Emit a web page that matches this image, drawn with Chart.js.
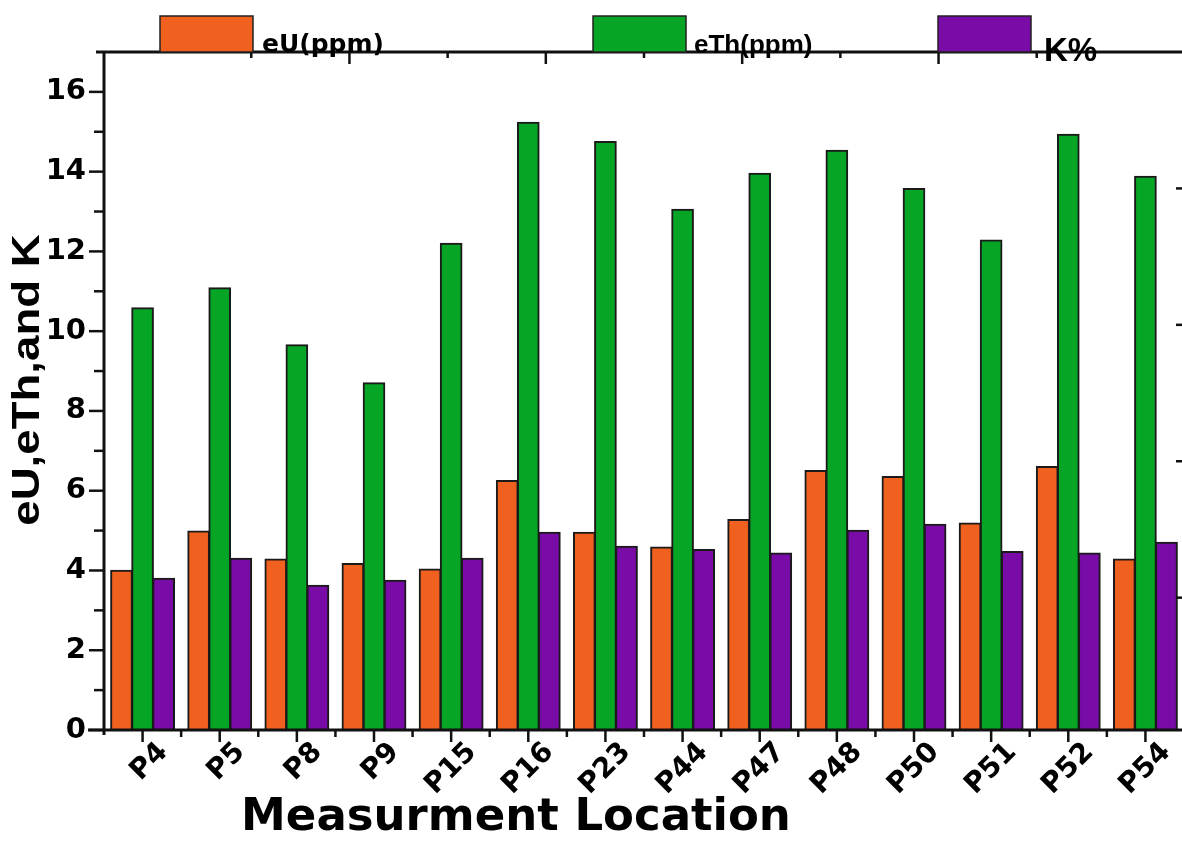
<!DOCTYPE html>
<html>
<head>
<meta charset="utf-8">
<script src="https://cdn.jsdelivr.net/npm/chart.js@4.4.0/dist/chart.umd.min.js"></script>
<style>
  html, body { margin: 0; padding: 0; background: #fff; overflow: hidden; }
  #wrap { width: 1182px; height: 852px; overflow: hidden; position: relative; }
  #chart { position: absolute; left: 0; top: 0; }
</style>
</head>
<body>
<div id="wrap"><canvas id="chart" width="1200" height="852"></canvas></div>
<script>
var locations = ['P4', 'P5', 'P8', 'P9', 'P15', 'P16', 'P23', 'P44', 'P47', 'P48', 'P50', 'P51', 'P52', 'P54'];
var eU  = [4.0, 4.98, 4.28, 4.17, 4.03, 6.25, 4.95, 4.58, 5.27, 6.5, 6.35, 5.18, 6.6, 4.28];
var eTh = [10.58, 11.08, 9.65, 8.7, 12.2, 15.23, 14.75, 13.05, 13.95, 14.53, 13.57, 12.28, 14.93, 13.88];
var K   = [3.8, 4.3, 3.62, 3.75, 4.3, 4.95, 4.6, 4.52, 4.43, 5.0, 5.15, 4.47, 4.43, 4.7];
var seriesNames = ['eU(ppm)', 'eTh(ppm)', 'K%'];
var seriesColors = ['#F0611F', '#06A525', '#790BA6'];

// axis ticks
var yMajor = [0, 2, 4, 6, 8, 10, 12, 14, 16];
var yMinor = [1, 3, 5, 7, 9, 11, 13, 15];
var topTicks = [1, 2, 3, 4, 5, 6, 7, 8, 9];      // odd = minor, even = major
var rightTicks = [1, 2, 3, 4];

var ink = '#111';

function seg(ctx, x1, y1, x2, y2) {
  ctx.beginPath(); ctx.moveTo(x1, y1); ctx.lineTo(x2, y2); ctx.stroke();
}

// frame, tick marks, legend and axis titles drawn by hand
var framePlugin = {
  id: 'frame',
  afterDatasetsDraw: function (chart) {
    var ctx = chart.ctx, a = chart.chartArea;
    var x = chart.scales.x, y = chart.scales.y, x2 = chart.scales.x2, y2 = chart.scales.y2;
    ctx.save();
    ctx.strokeStyle = ink;
    ctx.lineWidth = 3;
    seg(ctx, a.left - 16, a.bottom, a.right, a.bottom);
    seg(ctx, a.left - 8, a.top, a.right, a.top);
    seg(ctx, a.left, a.top, a.left, a.bottom + 5);
    seg(ctx, a.right, a.top, a.right, a.bottom);

    ctx.lineWidth = 2.5;
    yMajor.forEach(function (v) { var p = y.getPixelForValue(v); seg(ctx, a.left - 15, p, a.left, p); });
    yMinor.forEach(function (v) { var p = y.getPixelForValue(v); seg(ctx, a.left - 10, p, a.left, p); });
    var half = (x.getPixelForValue(1) - x.getPixelForValue(0)) / 2;
    locations.forEach(function (l, i) {
      var p = x.getPixelForValue(i);
      seg(ctx, p, a.bottom, p, a.bottom + 12);
      if (i < locations.length - 1) seg(ctx, p + half, a.bottom, p + half, a.bottom + 7);
    });
    topTicks.forEach(function (v) {
      var p = x2.getPixelForValue(v);
      seg(ctx, p, a.top, p, a.top + (v % 2 === 0 ? 12 : 6));
    });
    rightTicks.forEach(function (v) {
      var p = y2.getPixelForValue(v);
      seg(ctx, a.right - 8, p, a.right, p);
    });

    // legend
    var boxX = [160, 593, 938];
    var txtX = [262, 694, 1044];
    var txtY = [52, 53, 61];
    var txtFont = ['bold 25px "DejaVu Sans"', 'bold 26px "Liberation Sans"', 'bold 33px "Liberation Sans"'];
    chart.data.datasets.forEach(function (ds, i) {
      ctx.fillStyle = ds.backgroundColor;
      ctx.fillRect(boxX[i], 16, 93, a.top - 16);
      ctx.lineWidth = 1.5;
      ctx.strokeStyle = '#222';
      ctx.strokeRect(boxX[i], 16, 93, a.top - 16);
      ctx.fillStyle = '#000';
      ctx.font = txtFont[i];
      ctx.textAlign = 'left';
      ctx.textBaseline = 'alphabetic';
      ctx.fillText(ds.label, txtX[i], txtY[i]);
    });

    // x axis title
    ctx.font = 'bold 45px "DejaVu Sans"';
    ctx.textAlign = 'center';
    ctx.fillText('Measurment Location', 516, 830);

    // y axis title, a little stretched along its length like the original
    ctx.save();
    ctx.translate(39, 380);
    ctx.rotate(-Math.PI / 2);
    ctx.scale(1.14, 0.95);
    ctx.font = 'bold 40px "Liberation Sans"';
    ctx.textAlign = 'center';
    ctx.textBaseline = 'alphabetic';
    ctx.fillText('eU,eTh,and K', 0, 0);
    ctx.restore();
    ctx.restore();
  }
};

var tickFont = { family: 'DejaVu Sans', size: 29, weight: 'bold' };

new Chart(document.getElementById('chart'), {
  type: 'bar',
  data: {
    labels: locations,
    datasets: [
      { label: seriesNames[0], data: eU, backgroundColor: seriesColors[0] },
      { label: seriesNames[1], data: eTh, backgroundColor: seriesColors[1] },
      { label: seriesNames[2], data: K, backgroundColor: seriesColors[2] }
    ]
  },
  options: {
    responsive: false,
    animation: false,
    layout: { padding: { top: 52, right: 16, left: 0, bottom: 0 } },
    datasets: {
      bar: {
        borderColor: '#1a1a1a',
        borderWidth: 2,
        inflateAmount: 0.8,
        categoryPercentage: 0.82,
        barPercentage: 1.0
      }
    },
    plugins: {
      legend: { display: false },
      tooltip: { enabled: false }
    },
    scales: {
      x: {
        grid: { display: false, drawTicks: false },
        border: { display: false },
        ticks: {
          color: '#000', font: { family: 'DejaVu Sans', size: 28, weight: 'bold' }, autoSkip: false,
          minRotation: 45, maxRotation: 45, padding: 6, labelOffset: 21
        },
        afterFit: function (s) { s.height = 122; s.paddingLeft = 0; s.paddingRight = 0; }
      },
      x2: { type: 'linear', position: 'top', min: 0, max: 10, display: false },
      y: {
        min: 0, max: 17,
        grid: { display: false, drawTicks: false },
        border: { display: false },
        ticks: { stepSize: 2, includeBounds: false, color: '#000', font: tickFont, padding: 18 },
        afterFit: function (s) { s.width = 104; }
      },
      y2: { type: 'linear', position: 'right', min: 0.03, max: 5, display: false }
    }
  },
  plugins: [framePlugin]
});
</script>
</body>
</html>
